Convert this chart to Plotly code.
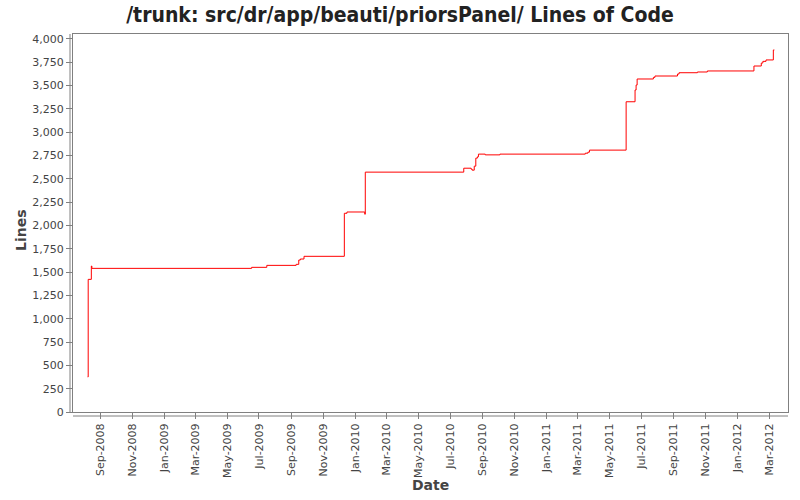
import plotly.graph_objects as go

# Data (step line of lines of code)
dates = [
    "2008-08-08", "2008-08-09", "2008-08-15", "2008-08-16",
    "2009-06-17", "2009-07-16", "2009-09-10", "2009-09-15", "2009-09-18", "2009-09-25",
    "2009-12-11", "2009-12-16", "2010-01-19", "2010-01-20",
    "2010-07-27", "2010-08-10", "2010-08-12", "2010-08-16", "2010-08-19", "2010-08-22",
    "2010-08-24", "2010-09-06", "2010-10-04",
    "2011-03-16", "2011-03-21", "2011-03-24",
    "2011-06-02", "2011-06-19", "2011-06-21", "2011-06-23",
    "2011-07-24", "2011-07-27", "2011-09-08", "2011-09-11", "2011-10-16", "2011-11-04",
    "2012-02-01", "2012-02-15", "2012-02-18", "2012-02-24", "2012-03-09", "2012-03-11",
]
lines = [
    376, 1421, 1564, 1539,
    1550, 1571, 1582, 1628, 1639, 1668,
    2129, 2143, 2119, 2570,
    2612, 2602, 2591, 2634, 2720, 2734,
    2763, 2755, 2763,
    2773, 2784, 2806,
    3324, 3450, 3503, 3568,
    3585, 3600, 3621, 3635, 3643, 3654,
    3707, 3739, 3757, 3772, 3879, 3879,
]

title_text = "/trunk: src/dr/app/beauti/priorsPanel/ Lines of Code"
x_title = "Date"
y_title = "Lines"
x_range = ["2008-07-11", "2012-04-06"]
y_range = [0, 4050]
y_ticks = list(range(0, 4001, 250))

fig = go.Figure()
fig.add_trace(go.Scatter(
    x=dates, y=lines, mode="lines", line=dict(color="#ff0000", width=1, shape="hv"),
    showlegend=False, hoverinfo="x+y",
))

axis_color = "#808080"
tick_font = dict(family="DejaVu Sans", size=11, color="#444444")
title_font = dict(family="DejaVu Sans", size=14, color="#444444")

W, H = 800, 500
L, R, T, B = 73, 12, 34, 88
pw, ph = W - L - R, H - T - B

fig.update_layout(
    width=W, height=H,
    paper_bgcolor="white", plot_bgcolor="white",
    margin=dict(l=L, r=R, t=T, b=B, autoexpand=False),
    title=dict(text="<b>" + title_text + "</b>", x=0.5, xref="container", xanchor="center",
               y=1 - 15 / H, yref="container", yanchor="middle",
               font=dict(family="DejaVu Sans Condensed, DejaVu Sans", size=21, color="#222222")),
    xaxis=dict(
        range=x_range, type="date", showgrid=False, zeroline=False, automargin=False,
        showline=True, linecolor=axis_color, linewidth=1, mirror=True,
        tickmode="linear", tick0="2008-09-01", dtick="M2", tickformat="%b-%Y",
        tickangle=-90, ticks="outside", ticklen=6, tickcolor=axis_color,
        tickfont=tick_font,
    ),
    yaxis=dict(
        range=y_range, showgrid=False, zeroline=False, automargin=False,
        showline=True, linecolor=axis_color, linewidth=1, mirror=True,
        tickmode="array", tickvals=y_ticks, tickformat=",d",
        ticks="outside", ticklen=6, tickcolor=axis_color,
        tickfont=tick_font,
    ),
    annotations=[
        dict(text="<b>" + x_title + "</b>", xref="paper", yref="paper", x=0.5,
             y=-(485 - (T + ph)) / ph, xanchor="center", yanchor="middle",
             showarrow=False, font=title_font),
        dict(text="<b>" + y_title + "</b>", xref="paper", yref="paper",
             x=-(L - 21) / pw, y=(T + ph - 230) / ph, xanchor="center", yanchor="middle",
             textangle=-90, showarrow=False, font=title_font),
    ],
    shapes=[
        # offset axis lines (JFreeChart style)
        dict(type="line", xref="paper", yref="paper", x0=-3 / pw, x1=-3 / pw, y0=0, y1=1,
             line=dict(color=axis_color, width=1)),
        dict(type="line", xref="paper", yref="paper", x0=0, x1=1, y0=-4 / ph, y1=-4 / ph,
             line=dict(color=axis_color, width=1)),
    ],
)

fig.write_html(
    "out.html",
    config={"displayModeBar": False},
    post_script="document.body.style.margin='0';document.body.style.overflow='hidden';",
)
